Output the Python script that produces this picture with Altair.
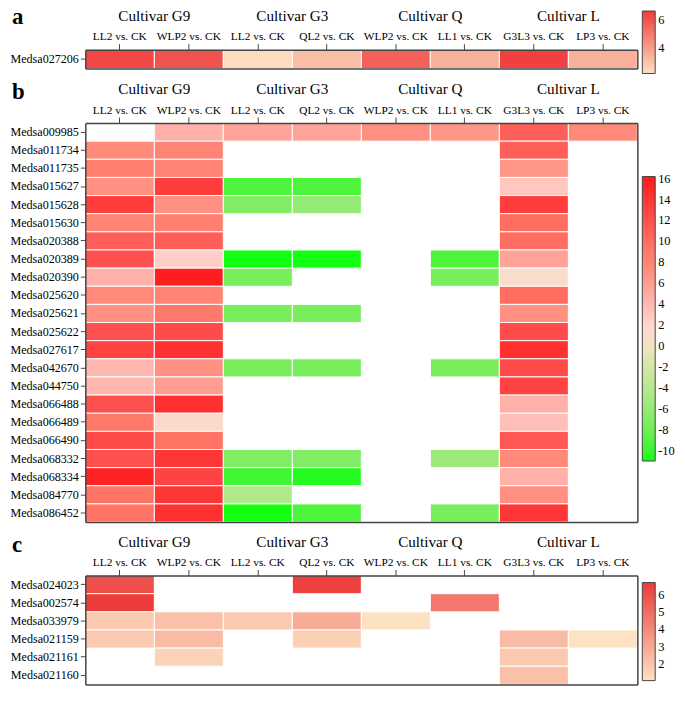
import altair as alt
import pandas as pd

FONT = "Liberation Serif"

comparisons = ["LL2 vs. CK", "WLP2 vs. CK", "LL2 vs. CK", "QL2 vs. CK",
               "WLP2 vs. CK", "LL1 vs. CK", "G3L3 vs. CK", "LP3 vs. CK"]
cultivars = ["Cultivar G9", "Cultivar G3", "Cultivar Q", "Cultivar L"]
col_cultivar = [0, 0, 1, 1, 2, 2, 3, 3]
col_ids = [f"{cultivars[c]}|{comparisons[i]}" for i, c in enumerate(col_cultivar)]

N = None

genes_a = ["Medsa027206"]
values_a = [[6.3, 6.0, 2.3, 3.1, 5.6, 3.5, 6.5, 3.5]]

genes_b = ["Medsa009985", "Medsa011734", "Medsa011735", "Medsa015627", "Medsa015628",
           "Medsa015630", "Medsa020388", "Medsa020389", "Medsa020390", "Medsa025620",
           "Medsa025621", "Medsa025622", "Medsa027617", "Medsa042670", "Medsa044750",
           "Medsa066488", "Medsa066489", "Medsa066490", "Medsa068332", "Medsa068334",
           "Medsa084770", "Medsa086452"]
values_b = [
    [N, 4.5, 5.5, 5.5, 7.0, 6.5, 11.0, 7.5],
    [7.5, 8.0, N, N, N, N, 11.0, N],
    [8.5, 8.0, N, N, N, N, 6.5, N],
    [7.0, 13.5, -9.5, -9.5, N, N, 3.0, N],
    [13.5, 7.0, -7.0, -6.0, N, N, 13.5, N],
    [8.0, 8.5, N, N, N, N, 10.0, N],
    [11.0, 11.0, N, N, N, N, 10.0, N],
    [12.0, 2.5, -11.0, -11.0, N, -9.5, 5.5, N],
    [4.5, 16.0, -7.5, N, N, -7.5, 1.2, N],
    [7.5, 8.0, N, N, N, N, 10.0, N],
    [7.0, 9.0, -7.5, -7.5, N, N, 7.0, N],
    [12.0, 12.5, N, N, N, N, 12.5, N],
    [13.0, 14.5, N, N, N, N, 14.5, N],
    [4.0, 7.0, -7.5, -7.5, N, -7.5, 12.5, N],
    [4.0, 6.0, N, N, N, N, 13.0, N],
    [12.0, 14.5, N, N, N, N, 4.5, N],
    [9.0, 1.5, N, N, N, N, 3.5, N],
    [12.5, 9.5, N, N, N, N, 11.5, N],
    [12.0, 14.0, -7.0, -7.0, N, -5.5, 7.5, N],
    [15.5, 13.0, -9.8, -10.5, N, N, 4.5, N],
    [9.5, 14.0, -4.5, N, N, N, 7.0, N],
    [9.5, 14.5, -11.0, -9.5, N, -7.5, 14.0, N],
]

genes_c = ["Medsa024023", "Medsa002574", "Medsa033979", "Medsa021159", "Medsa021161", "Medsa021160"]
values_c = [
    [5.95, N, N, 6.5, N, N, N, N],
    [6.6, N, N, N, N, 4.6, N, N],
    [1.9, 2.2, 1.9, 2.85, 1.1, N, N, N],
    [1.9, 2.35, N, 1.65, N, N, 2.35, 1.05],
    [N, 1.55, N, N, N, N, 1.9, N],
    [N, N, N, N, N, N, 2.2, N],
]

# colour scales
a_domain = [2.2, 6.6]
a_range = ["#fde0c2", "#f03c3c"]
b_domain = [-11, -9.5, -7.5, -4.5, 0, 2, 4.5, 7.5, 10, 12, 14.5, 16.2]
b_range = ["#12ff12", "#4cf43c", "#78ee5c", "#b0e88a", "#f0e4c0", "#ffd6cf",
           "#ffb0a8", "#ff8a7a", "#ff6e60", "#ff5050", "#ff3030", "#ff1a1a"]
c_domain = [1.05, 6.7]
c_range = ["#fde2c4", "#ec3a3a"]

a_ticks = [4, 6]
b_ticks = [16, 14, 12, 10, 8, 6, 4, 2, 0, -2, -4, -6, -8, -10]
c_ticks = [2, 3, 4, 5, 6]

W, H = 675, 682
X0, X1 = 78, 635
ROW = 18.3
FRAME = "#444444"


def long_df(genes, values):
    recs = []
    for g, row in zip(genes, values):
        for cid, v in zip(col_ids, row):
            if v is not None:
                recs.append({"gene": g, "col": cid, "value": v})
    return pd.DataFrame(recs)


def panel(letter, genes, values, top, bottom, cdomain, crange, ticks, legend_y, legend_len, letter_gap):
    df = long_df(genes, values)
    xs = alt.Scale(domain=col_ids, range=[X0, X1], paddingInner=0, paddingOuter=0)
    ys = alt.Scale(domain=genes, range=[top, bottom], paddingInner=0, paddingOuter=0)
    heat = alt.Chart(df).mark_rect(stroke="white", strokeWidth=1).encode(
        x=alt.X("col:N", scale=xs, title=None,
                axis=alt.Axis(orient="top", offset=-top, labelExpr="split(datum.label, '|')[1]",
                              labelFont=FONT, labelFontSize=11.5, labelColor="black", labelAngle=0,
                              labelOverlap=False, tickSize=6, tickColor=FRAME, labelPadding=2,
                              domainColor=FRAME, domainWidth=1.5, grid=False, zindex=1)),
        y=alt.Y("gene:N", scale=ys, title=None,
                axis=alt.Axis(orient="left", offset=-X0, labelFont=FONT, labelFontSize=12.2,
                              labelColor="black", labelOverlap=False, tickSize=5, tickColor=FRAME,
                              labelPadding=2, domainColor=FRAME, domainWidth=1.5, grid=False,
                              zindex=1)),
        color=alt.Color("value:Q",
                        scale=alt.Scale(domain=cdomain, range=crange, interpolate="rgb"),
                        legend=alt.Legend(orient="none", legendX=640, legendY=legend_y,
                                          direction="vertical", gradientLength=legend_len,
                                          gradientThickness=13, title=None, values=ticks,
                                          labelExpr="'' + datum.value",
                                          labelFont=FONT, labelFontSize=12.5, labelColor="black",
                                          gradientStrokeColor=FRAME, gradientStrokeWidth=1,
                                          labelOffset=3, padding=0)),
    )
    frame = alt.Chart(df).mark_rect(opacity=0).encode(
        x=alt.X("col:N", scale=xs, title=None,
                axis=alt.Axis(orient="bottom", offset=bottom - H, labels=False, ticks=False,
                              domainColor=FRAME, domainWidth=1.5, grid=False, zindex=1)),
        y=alt.Y("gene:N", scale=ys, title=None,
                axis=alt.Axis(orient="right", offset=X1 - W, labels=False, ticks=False,
                              domainColor=FRAME, domainWidth=1.5, grid=False, zindex=1)),
    )
    cult = alt.Chart(pd.DataFrame({"cultivar": cultivars})).mark_text(
        font=FONT, fontSize=15.3, baseline="alphabetic", color="black"
    ).encode(
        x=alt.X("cultivar:N", scale=alt.Scale(domain=cultivars, range=[X0, X1],
                                              paddingInner=0, paddingOuter=0), axis=None),
        y=alt.value(top - 29),
        text="cultivar:N",
    )
    lab = alt.Chart(pd.DataFrame({"t": [letter]})).mark_text(
        font=FONT, fontSize=23, fontWeight="bold", baseline="alphabetic", align="left", color="black"
    ).encode(
        x=alt.value(4),
        y=alt.value(top - letter_gap),
        text="t:N",
    )
    return [heat, frame, cult, lab]


a_top = 39
a_bot = a_top + 19
b_top = 113
b_bot = b_top + ROW * len(genes_b)
c_top = b_bot + 54
c_bot = c_top + ROW * len(genes_c)

layers = []
layers += panel("a", genes_a, values_a, a_top, a_bot, a_domain, a_range, a_ticks, 0, 63, 26)
layers += panel("b", genes_b, values_b, b_top, b_bot, b_domain, b_range, b_ticks,
                b_top + 54, 287, 24)
layers += panel("c", genes_c, values_c, c_top, c_bot, c_domain, c_range, c_ticks,
                c_top + 7, 99, 24)

chart = alt.layer(*layers).resolve_scale(
    x="independent", y="independent", color="independent"
).properties(
    width=W, height=H, autosize=alt.AutoSizeParams(type="none"), padding=0
).configure_view(strokeWidth=0)

chart.save("out.html", embed_options={"renderer": "svg", "actions": False})
